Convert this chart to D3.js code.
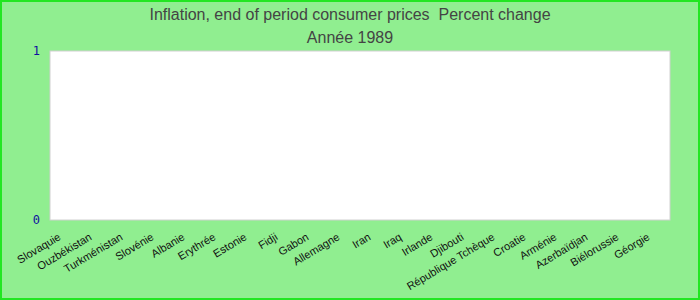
<!DOCTYPE html>
<html>
<head>
<meta charset="utf-8">
<script src="https://cdn.jsdelivr.net/npm/d3@7"></script>
<style>
  body { margin: 0; background: #fff; }
  svg { display: block; }
</style>
</head>
<body>
<svg width="700" height="300"></svg>
<script>
//## DATA ##
const countries = ['Slovaquie', 'Ouzbékistan', 'Turkménistan', 'Slovénie', 'Albanie', 'Erythrée', 'Estonie', 'Fidji', 'Gabon', 'Allemagne',
  'Iran', 'Iraq', 'Irlande', 'Djibouti', 'République Tchèque', 'Croatie', 'Arménie', 'Azerbaïdjan', 'Biélorussie', 'Géorgie']
// no figures reported for 1989: every bar is empty
const inflation = [0, 0, 0, 0, 0, 0, 0, 0, 0, 0, 0, 0, 0, 0, 0, 0, 0, 0, 0, 0]
const yTicks = [0, 1]
const titleLines = ['Inflation, end of period consumer prices  Percent change', 'Année 1989']

//## D3 VARIABLES ##
const svg = d3.select('svg')
const width = 700
const height = 300
const margin = { left: 50, right: 30, bottom: 80, top: 51 }
const innerWidth = width - margin.left - margin.right
const innerHeight = height - margin.top - margin.bottom

// background + outer border
svg.append('rect')
  .attr('x', 1).attr('y', 1)
  .attr('width', width - 2).attr('height', height - 2)
  .attr('fill', '#90ee90')
  .attr('stroke', '#22e622')
  .attr('stroke-width', 2)

// titles (keep the double space of the original)
svg.selectAll('.title').data(titleLines)
  .enter().append('text')
    .attr('class', 'title')
    .attr('x', width / 2)
    .attr('y', (d, i) => 20 + i * 23)
    .attr('text-anchor', 'middle')
    .style('white-space', 'pre')
    .style('font-family', '"Liberation Sans", Arial, sans-serif')
    .style('font-size', '16px')
    .style('fill', '#444')
    .text(d => d)

const g = svg.append('g').attr('transform', 'translate(' + margin.left + ',' + margin.top + ')')

const scaleX = d3.scaleBand()
  .domain(countries)
  .range([0, innerWidth])

const scaleY = d3.scaleLinear()
  .domain([0, 1])
  .range([innerHeight, 0])

// plot area
g.append('rect')
  .attr('width', innerWidth)
  .attr('height', innerHeight)
  .attr('fill', '#fff')
  .attr('stroke', '#d0d0d0')
  .attr('stroke-width', 1)

// y axis
const yAxisGroup = g.append('g')
  .call(d3.axisLeft(scaleY).tickValues(yTicks).tickFormat(d3.format('d')).tickSize(0).tickPadding(10))
yAxisGroup.select('.domain').remove()
yAxisGroup.selectAll('text')
  .style('font-family', '"DejaVu Sans Mono", monospace')
  .style('font-size', '12px')
  .style('fill', '#1010a0')

// x axis
const xAxisGroup = g.append('g')
  .attr('transform', 'translate(0,' + innerHeight + ')')
  .call(d3.axisBottom(scaleX).tickSize(0))
xAxisGroup.select('.domain').remove()
xAxisGroup.selectAll('text')
  .attr('text-anchor', 'end')
  .attr('dy', '0')
  .attr('y', 0)
  .attr('transform', 'translate(-4,19) rotate(-31)')
  .style('font-family', '"Liberation Sans", Arial, sans-serif')
  .style('font-size', '11px')
  .style('fill', '#111')

// bars
g.selectAll('.bar').data(inflation)
  .enter().append('rect')
    .attr('class', 'bar')
    .attr('x', (d, i) => scaleX(countries[i]) + scaleX.bandwidth() * 0.15)
    .attr('y', d => scaleY(d))
    .attr('width', scaleX.bandwidth() * 0.7)
    .attr('height', d => innerHeight - scaleY(d))
    .attr('fill', '#4060c0')
</script>
</body>
</html>
